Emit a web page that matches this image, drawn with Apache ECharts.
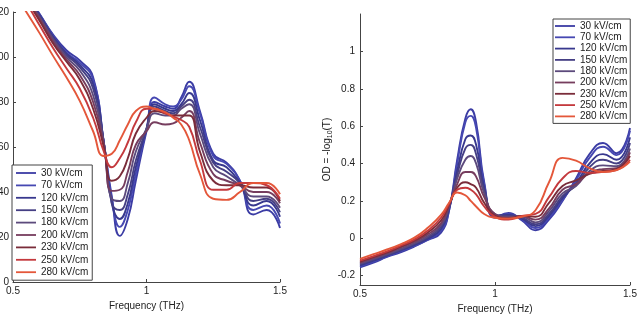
<!DOCTYPE html>
<html>
<head>
<meta charset="utf-8">
<script src="https://cdn.jsdelivr.net/npm/echarts@6/dist/echarts.min.js"></script>
<style>
  html, body { margin: 0; padding: 0; background: #fff; }
  #chart { width: 637px; height: 315px; }
</style>
</head>
<body>
<div id="chart"></div>
<script>
// field strengths (legend) and their colours, blue -> red
var fields = ['30 kV/cm', '70 kV/cm', '120 kV/cm', '150 kV/cm', '180 kV/cm', '200 kV/cm', '230 kV/cm', '250 kV/cm', '280 kV/cm']
var colors = ['#3b3ca4', '#4648b2', '#38388e', '#453f84', '#5c4a7c', '#763d5e', '#7a2c3a', '#c4393d', '#e4573a']

// left panel: frequency (THz)
var freqLeft = [0.5, 0.55, 0.6, 0.65, 0.7, 0.75, 0.8, 0.84, 0.87, 0.9, 0.93, 0.96, 1.0, 1.03, 1.07, 1.1, 1.13, 1.16, 1.2, 1.25, 1.3, 1.35, 1.4, 1.45, 1.5]
var left30 = [138, 128, 119, 110, 103, 98.5, 91, 62, 38, 20.5, 28, 45, 67, 80, 78, 77, 82, 89, 76, 57, 53, 45, 30, 32, 24]
var left70 = [137, 127.5, 119, 109.5, 102, 97.5, 90, 62, 37, 24.5, 32, 48, 68, 82, 79, 78, 81, 87, 75, 56, 52.5, 45, 32, 34, 26]
var left120 = [137, 127, 118.5, 109, 101.5, 96.5, 88, 62, 35, 28, 35, 51, 68, 79, 77, 76, 79, 84, 72, 54, 51, 44, 34, 36, 29]
var left150 = [136, 127, 118, 108.5, 101, 95.5, 86, 62, 35, 32, 39, 54, 68, 78, 76, 75, 78, 81, 69, 53, 49, 44, 36, 37, 31]
var left180 = [136, 126.5, 117.5, 108, 100, 94, 83, 62, 37, 36, 44, 58, 68, 75, 74, 74, 77, 79, 66, 51, 47, 43, 38, 38, 33]
var left200 = [135.5, 126, 117, 107, 99, 92, 80, 61, 40.5, 41, 49, 61, 67, 71, 70, 70.5, 73, 76, 62, 48, 45, 43, 40, 40, 35]
var left230 = [135, 125.5, 116, 106, 98, 90, 77, 60, 45, 47, 55, 66, 73, 76, 75, 74, 74, 74, 58, 45, 43, 43, 42, 42, 36]
var left250 = [133, 124, 114, 104, 95, 86, 73, 58, 51, 55, 62, 71, 77, 77, 75, 73.5, 72, 69, 54, 41, 41, 44, 44, 43, 37]
var left280 = [129.5, 120, 110.5, 100.5, 91, 80.5, 67, 56, 57, 63, 70, 76, 78, 77, 75.5, 73, 70, 63, 48, 37, 36.5, 40, 44, 44, 39]

// right panel: OD = -log10(T)
var freqRight = [0.5, 0.55, 0.6, 0.65, 0.7, 0.75, 0.8, 0.83, 0.86, 0.89, 0.91, 0.93, 0.96, 1.0, 1.05, 1.1, 1.15, 1.2, 1.25, 1.3, 1.35, 1.4, 1.45, 1.5]
var od30 = [-0.155, -0.13, -0.10, -0.075, -0.045, -0.01, 0.03, 0.15, 0.42, 0.64, 0.69, 0.62, 0.30, 0.11, 0.135, 0.095, 0.043, 0.10, 0.20, 0.32, 0.45, 0.51, 0.455, 0.59]
var od70 = [-0.15, -0.125, -0.097, -0.07, -0.042, -0.008, 0.04, 0.15, 0.40, 0.62, 0.655, 0.59, 0.29, 0.115, 0.13, 0.10, 0.055, 0.11, 0.205, 0.31, 0.43, 0.49, 0.445, 0.575]
var od120 = [-0.145, -0.12, -0.093, -0.066, -0.037, -0.003, 0.05, 0.16, 0.36, 0.53, 0.55, 0.50, 0.27, 0.12, 0.125, 0.105, 0.065, 0.12, 0.215, 0.295, 0.40, 0.45, 0.42, 0.54]
var od150 = [-0.14, -0.115, -0.09, -0.062, -0.032, 0.003, 0.06, 0.165, 0.34, 0.48, 0.50, 0.45, 0.26, 0.125, 0.12, 0.11, 0.075, 0.13, 0.225, 0.285, 0.38, 0.42, 0.40, 0.51]
var od180 = [-0.135, -0.11, -0.085, -0.057, -0.027, 0.01, 0.07, 0.17, 0.32, 0.42, 0.44, 0.40, 0.24, 0.13, 0.115, 0.115, 0.085, 0.145, 0.24, 0.28, 0.36, 0.39, 0.385, 0.48]
var od200 = [-0.13, -0.105, -0.08, -0.05, -0.02, 0.02, 0.08, 0.175, 0.29, 0.355, 0.355, 0.33, 0.22, 0.13, 0.11, 0.12, 0.10, 0.16, 0.26, 0.29, 0.35, 0.37, 0.375, 0.46]
var od230 = [-0.125, -0.10, -0.075, -0.045, -0.013, 0.03, 0.095, 0.18, 0.27, 0.30, 0.29, 0.27, 0.19, 0.12, 0.105, 0.12, 0.115, 0.19, 0.28, 0.31, 0.345, 0.36, 0.37, 0.44]
var od250 = [-0.12, -0.095, -0.07, -0.04, -0.007, 0.04, 0.11, 0.185, 0.26, 0.27, 0.26, 0.235, 0.17, 0.115, 0.10, 0.12, 0.13, 0.22, 0.32, 0.36, 0.35, 0.355, 0.365, 0.42]
var od280 = [-0.11, -0.085, -0.06, -0.032, 0.002, 0.055, 0.125, 0.19, 0.245, 0.23, 0.20, 0.17, 0.13, 0.11, 0.105, 0.115, 0.15, 0.30, 0.43, 0.415, 0.375, 0.355, 0.365, 0.41]

var odTicks = [-0.2, 0, 0.2, 0.4, 0.6, 0.8, 1]

var leftSets = [left30, left70, left120, left150, left180, left200, left230, left250, left280]
var rightSets = [od30, od70, od120, od150, od180, od200, od230, od250, od280]

var font = 'Liberation Sans'
var axisColor = '#444'
var textColor = '#222'
// thin bar used as legend marker (plain line, no dot)
var lineIcon = 'path://M0,0 L20,0 L20,1.8 L0,1.8 Z'

function pairs (xs, ys) {
  return xs.map(function (x, i) { return [x, ys[i]] })
}

function makeSeries (xs, sets, idx) {
  return sets.map(function (ys, i) {
    return {
      name: fields[i],
      type: 'line',
      xAxisIndex: idx,
      yAxisIndex: idx,
      symbol: 'none',
      smooth: 0.5,
      data: pairs(xs, ys),
      lineStyle: { color: colors[i], width: 1.9 },
      itemStyle: { color: colors[i] }
    }
  })
}

function freqAxis (idx) {
  return {
    type: 'value',
    gridIndex: idx,
    min: 0.5,
    max: 1.5,
    interval: 0.5,
    name: 'Frequency (THz)',
    nameLocation: 'middle',
    nameGap: 16,
    nameTextStyle: { fontSize: 10, color: textColor, fontFamily: font },
    axisLine: { onZero: false, lineStyle: { color: axisColor } },
    axisTick: { inside: true, length: 3, lineStyle: { color: axisColor } },
    axisLabel: { fontSize: 10, color: textColor, fontFamily: font, margin: 4 },
    splitLine: { show: false }
  }
}

function legendBox (left, top, itemHeight, gap, padding) {
  return {
    orient: 'vertical',
    left: left,
    top: top,
    icon: lineIcon,
    itemWidth: 20,
    itemHeight: itemHeight,
    itemGap: gap,
    padding: padding,
    borderColor: axisColor,
    borderWidth: 1,
    backgroundColor: '#fff',
    selectedMode: false,
    textStyle: { fontSize: 10, lineHeight: itemHeight, color: textColor, fontFamily: font },
    data: fields
  }
}

var chart = echarts.init(document.getElementById('chart'))
chart.setOption({
  backgroundColor: '#fff',
  animation: false,
  grid: [
    { left: 13, top: 12, width: 267, height: 270, outerBoundsMode: 'none' },
    { left: 360, top: 14, width: 270, height: 271, outerBoundsMode: 'none' }
  ],
  legend: [
    legendBox(12, 165, 10, 2.4, [3, 4, 3, 4]),
    legendBox(553, 19, 9, 1.3, [2, 3, 2, 2])
  ],
  xAxis: [freqAxis(0), freqAxis(1)],
  yAxis: [
    {
      type: 'value',
      gridIndex: 0,
      min: 0,
      max: 120,
      interval: 20,
      axisLine: { show: true, onZero: false, lineStyle: { color: axisColor } },
      axisTick: { show: true, inside: true, length: 3, lineStyle: { color: axisColor } },
      axisLabel: { fontSize: 10, color: textColor, fontFamily: font, margin: 4 },
      splitLine: { show: false }
    },
    {
      type: 'value',
      gridIndex: 1,
      min: -0.25,
      max: 1.2,
      name: 'OD = -log{sub|10}(T)',
      nameLocation: 'middle',
      nameGap: 26,
      nameRotate: 90,
      nameTextStyle: {
        fontSize: 10,
        color: textColor,
        fontFamily: font,
        rich: { sub: { fontSize: 7, color: textColor, fontFamily: font, padding: [6, 0, 0, 0] } }
      },
      axisLine: { show: true, onZero: false, lineStyle: { color: axisColor } },
      axisTick: { show: true, inside: true, length: 3, customValues: odTicks, lineStyle: { color: axisColor } },
      axisLabel: { fontSize: 10, color: textColor, fontFamily: font, margin: 5, customValues: odTicks },
      splitLine: { show: false }
    }
  ],
  series: makeSeries(freqLeft, leftSets, 0).concat(makeSeries(freqRight, rightSets, 1))
})
</script>
</body>
</html>
